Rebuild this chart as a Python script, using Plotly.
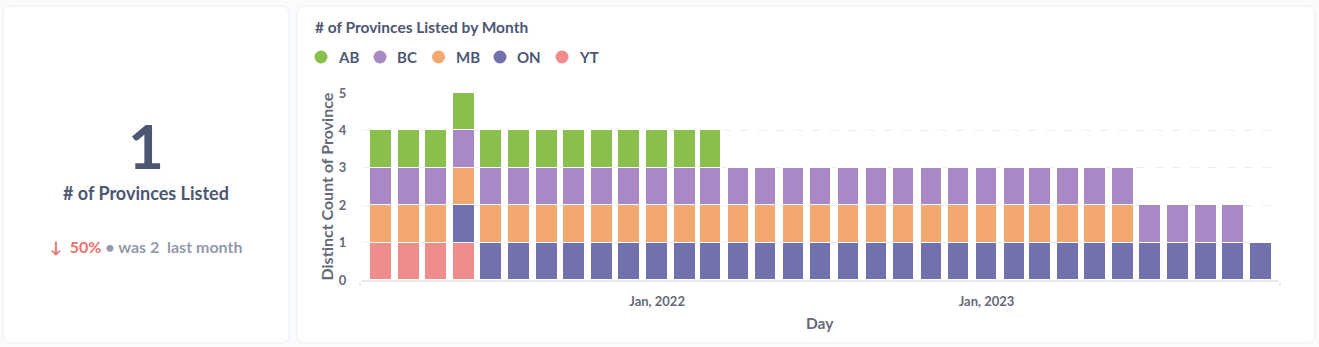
import plotly.graph_objects as go

W, H = 1319, 347

months = ["2021-03-01", "2021-04-01", "2021-05-01", "2021-06-01", "2021-07-01", "2021-08-01",
          "2021-09-01", "2021-10-01", "2021-11-01", "2021-12-01", "2022-01-01", "2022-02-01",
          "2022-03-01", "2022-04-01", "2022-05-01", "2022-06-01", "2022-07-01", "2022-08-01",
          "2022-09-01", "2022-10-01", "2022-11-01", "2022-12-01", "2023-01-01", "2023-02-01",
          "2023-03-01", "2023-04-01", "2023-05-01", "2023-06-01", "2023-07-01", "2023-08-01",
          "2023-09-01", "2023-10-01", "2023-11-01"]

N = None
YT = [1, 1, 1, 1, N, N, N, N, N, N, N, N, N, N, N, N, N, N, N, N, N, N, N, N, N, N, N, N, N, N, N, N, N]
ON = [N, N, N, 1, 1, 1, 1, 1, 1, 1, 1, 1, 1, 1, 1, 1, 1, 1, 1, 1, 1, 1, 1, 1, 1, 1, 1, 1, 1, 1, 1, 1, 1]
MB = [1, 1, 1, 1, 1, 1, 1, 1, 1, 1, 1, 1, 1, 1, 1, 1, 1, 1, 1, 1, 1, 1, 1, 1, 1, 1, 1, 1, N, N, N, N, N]
BC = [1, 1, 1, 1, 1, 1, 1, 1, 1, 1, 1, 1, 1, 1, 1, 1, 1, 1, 1, 1, 1, 1, 1, 1, 1, 1, 1, 1, 1, 1, 1, 1, N]
AB = [1, 1, 1, 1, 1, 1, 1, 1, 1, 1, 1, 1, 1, N, N, N, N, N, N, N, N, N, N, N, N, N, N, N, N, N, N, N, N]

series = [("YT", YT, "#EF8C8C"), ("ON", ON, "#7172AD"), ("MB", MB, "#F2A86F"),
          ("BC", BC, "#A989C5"), ("AB", AB, "#88BF4D")]
legend_order = ["AB", "BC", "MB", "ON", "YT"]
colors = {n: c for n, _, c in series}

y_ticks = [0, 1, 2, 3, 4, 5]
x_ticks = ["2022-01-01", "2023-01-01"]
x_ticklabels = ["Jan, 2022", "Jan, 2023"]

DARK = "#4C5773"
MED = "#656A78"
LIGHT = "#949AAB"
RED = "#ED6E6E"

fig = go.Figure()
DAY = 86400000
for name, vals, col in series:
    fig.add_trace(go.Bar(
        x=months, y=vals, name=name, marker=dict(color=col, line=dict(color="white", width=1)),
        width=24 * DAY, showlegend=False,
    ))

def px(x):
    return x / W

def py(y):
    return 1 - y / H

def rrect(x0, y0, x1, y1, r=8):
    X = lambda v: f"{px(v):.6f}"
    Y = lambda v: f"{py(v):.6f}"
    return (f"M {X(x0+r)} {Y(y0)} L {X(x1-r)} {Y(y0)} Q {X(x1)} {Y(y0)} {X(x1)} {Y(y0+r)} "
            f"L {X(x1)} {Y(y1-r)} Q {X(x1)} {Y(y1)} {X(x1-r)} {Y(y1)} "
            f"L {X(x0+r)} {Y(y1)} Q {X(x0)} {Y(y1)} {X(x0)} {Y(y1-r)} "
            f"L {X(x0)} {Y(y0+r)} Q {X(x0)} {Y(y0)} {X(x0+r)} {Y(y0)} Z")

shapes = [
    dict(type="path", xref="paper", yref="paper", path=rrect(3, 6, 289, 343),
         fillcolor="white", line=dict(color="#EBEEF2", width=1), layer="below"),
    dict(type="path", xref="paper", yref="paper", path=rrect(297, 6, 1315, 343),
         fillcolor="white", line=dict(color="#EBEEF2", width=1), layer="below"),
    # small end ticks of the x axis
    dict(type="line", xref="paper", yref="paper", x0=px(360), x1=px(360), y0=py(281), y1=py(286),
         line=dict(color="#E6E8EB", width=1.5)),
    dict(type="line", xref="paper", yref="paper", x0=px(1280), x1=px(1280), y0=py(281), y1=py(286),
         line=dict(color="#E6E8EB", width=1.5)),
]

annotations = []
dot_x = [321, 380, 438.5, 500, 562]
for name, cx in zip(legend_order, dot_x):
    r = 6.5
    shapes.append(dict(type="circle", xref="paper", yref="paper",
                       x0=px(cx - r), x1=px(cx + r), y0=py(57 + r), y1=py(57 - r),
                       fillcolor=colors[name], line=dict(width=0)))
    annotations.append(dict(xref="paper", yref="paper", x=px(cx + 15), y=py(57),
                            xanchor="left", yanchor="middle", showarrow=False,
                            text=name, font=dict(family="Lato", size=15, color=DARK, weight="bold")))

annotations.append(dict(xref="paper", yref="paper", x=px(313), y=py(27), xanchor="left", yanchor="middle",
                        showarrow=False, text="<b># of Provinces Listed by Month</b>",
                        font=dict(family="Lato", size=15.5, color=DARK)))
annotations.append(dict(xref="paper", yref="paper", x=px(326), y=py(186.5), xanchor="center", yanchor="middle",
                        showarrow=False, textangle=-90, text="<b>Distinct Count of Province</b>",
                        font=dict(family="Lato", size=16, color=MED)))
annotations.append(dict(xref="paper", yref="paper", x=px(820), y=py(323), xanchor="center", yanchor="middle",
                        showarrow=False, text="<b>Day</b>",
                        font=dict(family="Lato", size=15.5, color=MED)))

annotations.append(dict(xref="paper", yref="paper", x=px(146), y=py(145), xanchor="center", yanchor="middle",
                        showarrow=False, text="<b>1</b>",
                        font=dict(family="Lato", size=62, color=DARK)))
annotations.append(dict(xref="paper", yref="paper", x=px(145.5), y=py(193), xanchor="center", yanchor="middle",
                        showarrow=False, text="<b># of Provinces Listed</b>",
                        font=dict(family="Lato", size=18, color=DARK)))
annotations.append(dict(xref="paper", yref="paper", x=px(145.5), y=py(246), xanchor="center", yanchor="middle",
                        showarrow=False,
                        text=(f"<span style='color:{RED}'><b>↓&nbsp;&nbsp;50%</b></span>"
                              f"<span style='color:{LIGHT}'><b> • was 2&nbsp;&nbsp;last month</b></span>"),
                        font=dict(family="Lato", size=16, color=LIGHT)))

fig.update_layout(
    width=W, height=H, margin=dict(l=0, r=0, t=0, b=0, pad=0, autoexpand=False),
    paper_bgcolor="#F9FBFC", plot_bgcolor="rgba(0,0,0,0)",
    barmode="stack", bargap=0, showlegend=False,
    shapes=shapes, annotations=annotations,
    xaxis=dict(type="date", domain=[px(362), px(1278)], range=["2021-02-08", "2023-11-20"],
               tickvals=x_ticks, ticktext=x_ticklabels, ticks="outside", ticklen=8,
               tickcolor="rgba(0,0,0,0)", showgrid=False, zeroline=False, automargin=False,
               showline=True, linecolor="#E6E8EB", linewidth=2,
               tickfont=dict(family="Lato", size=13, color=MED, weight="bold")),
    yaxis=dict(domain=[py(280), py(93)], range=[0, 5], tickvals=y_ticks, automargin=False,
               ticks="outside", ticklen=12, tickcolor="rgba(0,0,0,0)",
               showgrid=True, gridcolor="#ECEEF1", griddash="dash", gridwidth=1,
               zeroline=False, showline=False,
               tickfont=dict(family="Lato", size=13, color=MED, weight="bold")),
)

fig.write_html("out.html")
